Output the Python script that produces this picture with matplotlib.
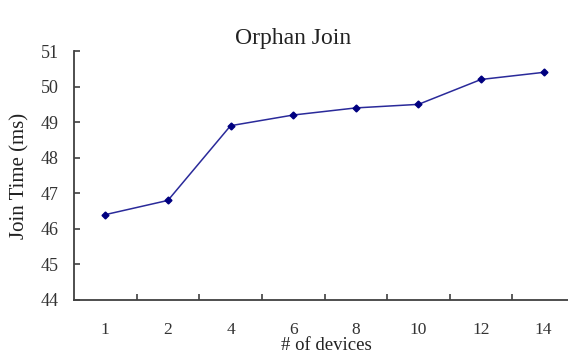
import matplotlib
matplotlib.use("Agg")
import matplotlib.pyplot as plt

categories = ["1", "2", "4", "6", "8", "10", "12", "14"]
join_time = [46.4, 46.8, 48.9, 49.2, 49.4, 49.5, 50.2, 50.4]
y_ticks = [44, 45, 46, 47, 48, 49, 50, 51]

plt.rcParams['font.family'] = ['Liberation Serif', 'DejaVu Serif']

fig = plt.figure(figsize=(5.68, 3.54), dpi=100)
W, H = 568, 354
ax = fig.add_axes([74 / W, (H - 300) / H, (575 - 74) / W, (300 - 51) / H])

x = list(range(len(categories)))
ax.plot(x, join_time, color='#2a2a9a', linewidth=1.1, marker='D',
        markersize=3.5, markerfacecolor='#000080', markeredgecolor='#000080')

ax.set_xlim(-0.5, len(categories) - 0.5)
ax.set_ylim(44, 51)
ax.set_yticks(y_ticks)
ax.set_yticklabels([str(v) for v in y_ticks])
ax.set_xticks(x)
ax.set_xticklabels(categories)
ax.set_xticks([i + 0.5 for i in range(len(categories) - 1)], minor=True)

for s in ['top', 'right']:
    ax.spines[s].set_visible(False)
for s in ['left', 'bottom']:
    ax.spines[s].set_color('#404040')
    ax.spines[s].set_linewidth(1.3)

ax.tick_params(axis='x', which='major', length=0, pad=16, labelsize=12.5, colors='#333333')
ax.tick_params(axis='x', which='minor', direction='in', length=4, width=1.2, color='#404040')
ax.tick_params(axis='y', direction='in', length=4, width=1.2, color='#404040',
               labelsize=13, labelcolor='#333333', pad=11)

ax.set_title("Orphan Join", fontsize=17, color='#222222', x=(293 - 74) / (575 - 74), pad=5)
ax.set_ylabel("Join Time (ms)", fontsize=15, color='#222222')
ax.yaxis.set_label_coords(-(74 - 29) / (575 - 74), (300 - 176) / (300 - 51))
ax.set_xlabel("# of devices", fontsize=13.5, color='#222222')
ax.xaxis.set_label_coords((326 - 74) / (575 - 74), -(354 - 300) / (300 - 51))
ax.xaxis.label.set_va('bottom')

fig.savefig("out.png", dpi=100)
